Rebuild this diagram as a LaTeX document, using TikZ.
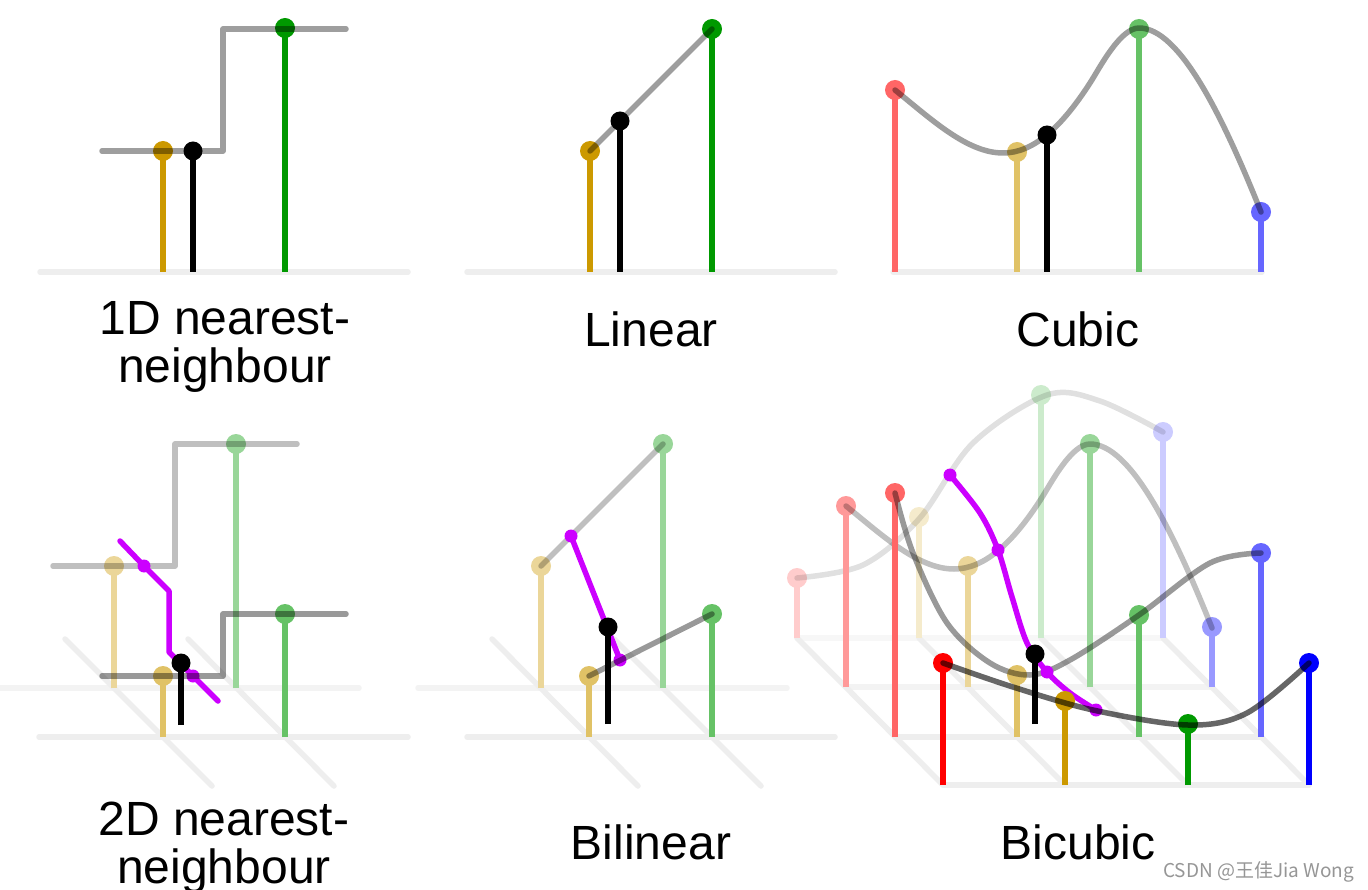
\documentclass[tikz,border=0pt]{standalone}
\usepackage{fontspec}
\setmainfont{Liberation Sans}
\newfontfamily\cjkfont{Noto Sans CJK SC}
\definecolor{goldF}{RGB}{204,153,0}
\definecolor{greenF}{RGB}{0,153,0}
\definecolor{redF}{RGB}{255,0,0}
\definecolor{blueF}{RGB}{0,0,255}
\definecolor{magc}{RGB}{204,0,255}
\colorlet{gold6}{goldF!60!white}\colorlet{gold4}{goldF!40!white}\colorlet{gold2}{goldF!20!white}
\colorlet{green6}{greenF!60!white}\colorlet{green4}{greenF!40!white}\colorlet{green2}{greenF!20!white}
\colorlet{red6}{redF!60!white}\colorlet{red4}{redF!40!white}\colorlet{red2}{redF!20!white}
\colorlet{blue6}{blueF!60!white}\colorlet{blue4}{blueF!40!white}\colorlet{blue2}{blueF!20!white}
\definecolor{gridA}{RGB}{238,238,238}
\definecolor{gridB}{RGB}{243,243,243}
\definecolor{gridC}{RGB}{247,247,247}
\definecolor{wmark}{RGB}{150,150,150}
\newcommand\stemdot[4]{\draw[stemline=#1] (#2,#3) -- (#2,#4); \fill[#1] (#2,#4) circle (10pt);}
\newcommand\blackpt[3]{\draw[stemline=black] (#1,#2) -- (#1,#3); \fill[black] (#1,#3) circle (9.5pt);}
\newcommand\magdot[2]{\fill[magc] (#1,#2) circle (6.5pt);}
\newcommand\cubiccurve{(895,90) .. controls (931,119) and (967,153) .. (1003,153) .. controls (1033,153) and (1061,128) .. (1090,83) .. controls (1099.5,68.3) and (1120,28) .. (1139,28) .. controls (1179,28) and (1221.5,113.3) .. (1261,212)}
\tikzset{
  gridline/.style={line width=5.5pt, line cap=round, draw=#1},
  stemline/.style={line width=5.5pt, draw=#1},
  interp/.style={line width=5.5pt, line cap=round, line join=round, draw=black, draw opacity=#1},
  magline/.style={line width=5.5pt, line cap=round, line join=round, draw=magc},
  lbl/.style={font=\fontsize{48}{48}\selectfont, anchor=base, inner sep=0pt, align=center},
}
\begin{document}
\begin{tikzpicture}[x=1pt,y=-1pt]
\useasboundingbox (0,0) rectangle (1368,890);
\fill[white] (0,0) rectangle (1368,890);

% ---------- 1D nearest neighbour ----------
\draw[gridline=gridA] (40,272) -- (408,272);
\stemdot{goldF}{163}{272}{151}
\stemdot{greenF}{285}{272}{28}
\draw[interp=0.38] (102,151) -- (223,151) -- (223,29) -- (346,29);
\blackpt{193}{272}{151}
\node[lbl] (l1) at (225,383) {1D nearest-\\neighbour};

% ---------- Linear ----------
\draw[gridline=gridA] (467,272) -- (835,272);
\stemdot{goldF}{590}{272}{151}
\stemdot{greenF}{712}{272}{29}
\draw[interp=0.38] (590,151) -- (712,29);
\blackpt{620}{272}{121}
\node[lbl] (l2) at (651,347) {Linear};

% ---------- Cubic ----------
\draw[gridline=gridA] (893,272) -- (1262,272);
\stemdot{red6}{895}{272}{90}
\stemdot{gold6}{1017}{272}{152}
\stemdot{green6}{1139}{272}{29}
\stemdot{blue6}{1261}{272}{212}
\draw[interp=0.38] \cubiccurve;
\blackpt{1047}{272}{135}
\node[lbl] (l3) at (1078,347) {Cubic};

% ---------- 2D nearest neighbour ----------
\draw[gridline=gridB] (-10,688) -- (359,688);
\draw[gridline=gridA] (39,737) -- (408,737);
\draw[gridline=gridA] (65,639) -- (212,786);
\draw[gridline=gridA] (188,639) -- (334,786);
\stemdot{gold4}{114}{688}{566}
\stemdot{green4}{236}{688}{444}
\draw[interp=0.25] (53,566) -- (175,566) -- (175,444) -- (297,444);
\draw[magline] (120,541) -- (144,566) -- (169,591) -- (169,652) -- (193,676) -- (218,701);
\magdot{144}{566}\magdot{193}{676}
\stemdot{gold6}{163}{737}{676}
\stemdot{green6}{285}{737}{614}
\draw[interp=0.4] (102,676) -- (223,676) -- (223,614) -- (346,614);
\blackpt{181}{725}{663}
\node[lbl] (l4) at (224,883) {2D nearest-\\neighbour};

% ---------- Bilinear ----------
\draw[gridline=gridB] (418,688) -- (787,688);
\draw[gridline=gridA] (467,737) -- (835,737);
\draw[gridline=gridA] (492,639) -- (638,786);
\draw[gridline=gridA] (614,639) -- (761,786);
\stemdot{gold4}{541}{688}{566}
\stemdot{green4}{663}{688}{444}
\draw[interp=0.25] (541,566) -- (663,444);
\draw[magline] (571,536) -- (620,660);
\magdot{571}{536}\magdot{620}{660}
\stemdot{gold6}{589}{737}{676}
\stemdot{green6}{712}{737}{614}
\draw[interp=0.4] (589,676) -- (712,614);
\blackpt{608}{724}{627}
\node[lbl] (l5) at (651,859) {Bilinear};

% ---------- Bicubic ----------
\draw[gridline=gridC] (797,638) -- (1163,638);
\draw[gridline=gridB] (846,687) -- (1212,687);
\draw[gridline=gridA] (895,737) -- (1261,737);
\draw[gridline=gridA] (943,785) -- (1309,785);
\draw[gridline=gridA] (797,638) -- (943,785);
\draw[gridline=gridA] (919,638) -- (1065,785);
\draw[gridline=gridA] (1041,638) -- (1188,785);
\draw[gridline=gridA] (1163,638) -- (1309,785);
% row 3 (back)
\stemdot{red2}{797}{638}{578}
\stemdot{gold2}{919}{638}{517}
\stemdot{green2}{1041}{638}{395}
\stemdot{blue2}{1163}{638}{432}
\draw[interp=0.12] plot[smooth, tension=0.55] coordinates {(797,578) (863,565) (919,519) (973,443) (1047,395) (1100,401) (1163,432)};
% row 2
\stemdot{red4}{846}{687}{506}
\stemdot{gold4}{968}{687}{566}
\stemdot{green4}{1090}{687}{444}
\stemdot{blue4}{1212}{687}{627}
\begin{scope}[shift={(-49,416)}]
\draw[interp=0.25] \cubiccurve;
\end{scope}
% row 1
\stemdot{red6}{895}{737}{493}
\stemdot{gold6}{1017}{737}{675}
\stemdot{green6}{1139}{737}{615}
\stemdot{blue6}{1261}{737}{553}
\draw[interp=0.4] plot[smooth, tension=0.55] coordinates {(895,493) (913,553) (947,623) (990,663) (1030,675) (1070,660) (1139,615) (1210,563) (1261,553)};
% magenta
\draw[magline] plot[smooth, tension=0.55] coordinates {(950,475) (980,513) (998,550) (1012,597) (1027,643) (1047,672) (1070,693) (1096,710)};
\magdot{950}{475}\magdot{998}{550}\magdot{1047}{672}\magdot{1096}{710}
\blackpt{1035}{724}{654}
% row 0 (front)
\stemdot{redF}{943}{785}{663}
\stemdot{goldF}{1065}{785}{701}
\stemdot{greenF}{1188}{785}{724}
\stemdot{blueF}{1309}{785}{663}
\draw[interp=0.6] plot[smooth, tension=0.55] coordinates {(943,663) (1013,687) (1093,710) (1188,725) (1247,713) (1309,663)};
\node[lbl] (l6) at (1078,859) {Bicubic};

% watermark
\node[anchor=base west, inner sep=0pt, text=wmark, font=\cjkfont\fontsize{19}{20}\selectfont] (wm) at (1163,877) {CSDN @王佳Jia Wong};
\end{tikzpicture}
\end{document}
